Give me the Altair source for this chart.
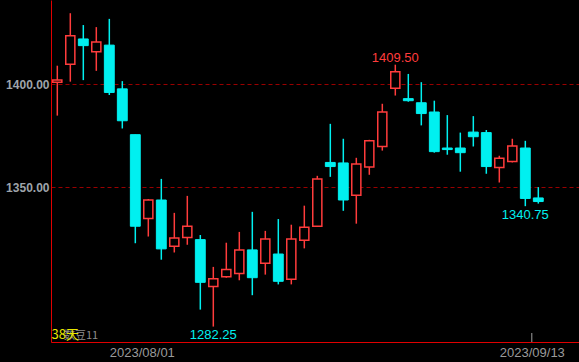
import altair as alt
import pandas as pd

dates = ["2023/07/21", "2023/07/24", "2023/07/25", "2023/07/26", "2023/07/27", "2023/07/28",
         "2023/07/31", "2023/08/01", "2023/08/02", "2023/08/03", "2023/08/04", "2023/08/07",
         "2023/08/08", "2023/08/09", "2023/08/10", "2023/08/11", "2023/08/14", "2023/08/15",
         "2023/08/16", "2023/08/17", "2023/08/18", "2023/08/21", "2023/08/22", "2023/08/23",
         "2023/08/24", "2023/08/25", "2023/08/28", "2023/08/29", "2023/08/30", "2023/08/31",
         "2023/09/01", "2023/09/05", "2023/09/06", "2023/09/07", "2023/09/08", "2023/09/11",
         "2023/09/12", "2023/09/13"]
opens = [1401.0, 1409.75, 1422.0, 1415.75, 1419.0, 1397.75, 1375.5, 1334.75, 1343.75, 1321.25,
         1325.5, 1324.5, 1301.75, 1306.5, 1308.0, 1319.5, 1313.0, 1317.5, 1305.25, 1324.25,
         1331.0, 1362.0, 1361.75, 1346.0, 1359.75, 1369.75, 1398.0, 1393.0, 1391.0, 1386.5,
         1369.0, 1369.0, 1376.75, 1376.5, 1359.5, 1362.5, 1369.0, 1344.75]
highs = [1409.0, 1434.5, 1428.75, 1427.75, 1431.75, 1401.5, 1375.5, 1344.25, 1354.0, 1337.5,
         1345.75, 1326.75, 1311.25, 1323.0, 1328.25, 1338.0, 1328.75, 1334.5, 1331.75, 1341.0,
         1355.5, 1380.75, 1373.5, 1364.25, 1373.0, 1390.5, 1409.5, 1405.0, 1401.0, 1392.0,
         1385.0, 1376.5, 1384.5, 1377.75, 1365.25, 1373.5, 1372.5, 1350.0]
lows = [1384.75, 1401.25, 1402.0, 1406.5, 1394.75, 1378.5, 1322.75, 1326.0, 1314.75, 1318.25,
        1322.0, 1290.5, 1282.25, 1306.0, 1304.75, 1297.5, 1307.5, 1302.75, 1302.75, 1320.25,
        1331.0, 1355.0, 1338.5, 1332.25, 1356.0, 1367.75, 1394.5, 1391.5, 1380.0, 1366.75,
        1365.75, 1357.5, 1369.75, 1356.5, 1352.25, 1362.0, 1340.75, 1342.0]
closes = [1402.0, 1423.5, 1418.75, 1420.5, 1396.0, 1382.25, 1331.0, 1343.75, 1320.0, 1325.25,
          1331.0, 1303.75, 1305.5, 1310.0, 1319.5, 1306.0, 1324.75, 1304.25, 1324.75, 1330.5,
          1354.0, 1360.0, 1343.75, 1361.25, 1372.5, 1386.5, 1406.0, 1392.0, 1385.75, 1367.25,
          1368.25, 1366.75, 1374.5, 1360.0, 1364.0, 1370.0, 1344.5, 1343.0]

tick_dates = ["2023/08/01", "2023/09/13"]
y_ticks = [1350, 1400]
mark_high_dates = ["2023/08/28"]
mark_low_dates = ["2023/08/08", "2023/09/12"]

RED = "#ff3c3c"
CYAN = "#00f0f0"
AXIS_RED = "#e00000"

n = len(dates)
df = pd.DataFrame({"i": list(range(n)), "date": dates, "open": opens, "high": highs,
                   "low": lows, "close": closes})
df["dir"] = ["up" if c >= o else "down" for o, c in zip(opens, closes)]

tick_pos = [dates.index(d) - 0.5 for d in tick_dates]
label_expr = " : ".join(f"datum.value == {p} ? '{d}'" for p, d in zip(tick_pos, tick_dates)) + " : ''"

x_scale = alt.Scale(domain=[-0.485, 40.13], nice=False, zero=False)
y_scale = alt.Scale(domain=[1274.76, 1440.92], nice=False, zero=False)

x_axis = alt.Axis(values=tick_pos, labelExpr=label_expr, title=None, ticks=False, grid=False,
                  domainColor=AXIS_RED, domainWidth=1, labelColor="#9a9a9a", labelFontSize=13,
                  labelFont="Liberation Sans", labelPadding=4, labelAngle=0)
y_axis = alt.Axis(values=y_ticks, format=".2f", title=None, ticks=False, grid=True,
                  gridColor="#9a0000", gridDash=[4, 3], gridWidth=1, domainColor=AXIS_RED,
                  domainWidth=1, labelColor="#9ea4aa", labelFontSize=12, labelFontWeight="bold",
                  labelFont="Liberation Sans", labelPadding=2)


def X(field):
    return alt.X(field, scale=x_scale, axis=x_axis)


def Y(field):
    return alt.Y(field, scale=y_scale, axis=y_axis)


base = alt.Chart(df)

wicks = base.mark_rule(strokeWidth=1.5).encode(
    x=X("i:Q"),
    y=Y("low:Q"),
    y2="high:Q",
    color=alt.Color("dir:N", scale=alt.Scale(domain=["up", "down"], range=[RED, CYAN]), legend=None),
)

body_up = base.transform_filter("datum.close >= datum.open").transform_calculate(
    x0="datum.i - 0.35", x1="datum.i + 0.35"
).mark_rect(fill="black", stroke=RED, strokeWidth=1.5).encode(
    x=X("x0:Q"), x2="x1:Q", y=Y("open:Q"), y2="close:Q",
)

body_down = base.transform_filter("datum.close < datum.open").transform_calculate(
    x0="datum.i - 0.38", x1="datum.i + 0.38"
).mark_rect(fill=CYAN, stroke=CYAN, strokeWidth=1).encode(
    x=X("x0:Q"), x2="x1:Q", y=Y("open:Q"), y2="close:Q",
)

hi_df = df[df["date"].isin(mark_high_dates)]
lo_df = df[df["date"].isin(mark_low_dates)]

hi_text = alt.Chart(hi_df).mark_text(
    color=RED, font="Liberation Sans", fontSize=13, baseline="alphabetic", align="center", dy=-2.5
).encode(
    x=X("i:Q"), y=Y("high:Q"),
    text=alt.Text("high:Q", format=".2f"),
)

lo_text = alt.Chart(lo_df).mark_text(
    color=CYAN, font="Liberation Sans", fontSize=13, baseline="alphabetic", align="center", dy=12.5
).encode(
    x=X("i:Q"), y=Y("low:Q"),
    text=alt.Text("low:Q", format=".2f"),
)

cursor_df = pd.DataFrame({"pos": [dates.index(tick_dates[-1]) - 0.5]})
cursor = alt.Chart(cursor_df).mark_rule(color="#a0a0a0", strokeWidth=1).encode(
    x=X("pos:Q"),
    y=alt.value(333), y2=alt.value(342),
)

info_df = pd.DataFrame({"t1": [f"{n}天"], "t2": ["数豆11"]})
info_gray = alt.Chart(info_df).mark_text(
    color="#8c8c8c", font="Noto Sans CJK SC", fontSize=11, align="left", baseline="alphabetic"
).encode(x=alt.value(13), y=alt.value(338.5), text="t2:N")
info_yellow = alt.Chart(info_df).mark_text(
    color="#e8e800", font="Noto Sans CJK SC", fontSize=13, align="left", baseline="alphabetic"
).encode(x=alt.value(0.5), y=alt.value(338.5), text="t1:N")

chart = alt.layer(wicks, body_up, body_down, hi_text, lo_text, cursor, info_gray, info_yellow).properties(
    width=528, height=342,
    autosize=alt.AutoSizeParams(type="none"),
    padding={"left": 51, "top": 0, "right": 0, "bottom": 20},
    background="black",
).configure_view(stroke=None)

chart.save("out.html", embed_options={"renderer": "svg", "actions": False})
